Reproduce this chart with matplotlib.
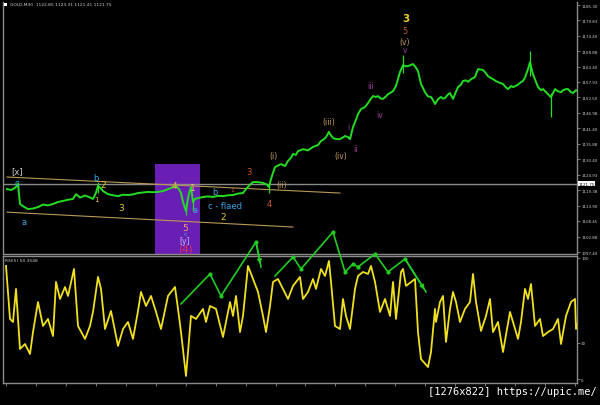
import matplotlib
matplotlib.use("Agg")
import matplotlib.pyplot as plt
from matplotlib.patches import Rectangle

# price series (bar position, close)
bar_x = [4, 8, 12, 15, 17, 21, 25, 30, 35, 40, 45, 50, 55, 60, 65, 70, 73, 77, 82, 86,
         90, 93, 95, 98, 100, 105, 110, 115, 120, 125, 130, 135, 140, 145, 150, 155, 160, 165, 170, 173,
         176, 178, 180, 182, 183, 185, 187, 188, 190, 192, 195, 200, 205, 210, 215, 220, 225, 230, 235, 240,
         243, 246, 250, 255, 260, 264, 266, 268, 270, 272, 275, 278, 282, 285, 288, 290, 293, 295, 300, 305,
         310, 315, 318, 321, 323, 326, 327, 330, 333, 337, 340, 342, 345, 347, 350, 353, 355, 358, 362, 365,
         368, 370, 373, 375, 378, 380, 383, 385, 388, 390, 393, 395, 397, 400, 403, 405, 408, 410, 413, 415,
         418, 420, 422, 425, 428, 430, 432, 435, 438, 440, 442, 445, 447, 450, 453, 455, 458, 460, 463, 465,
         468, 470, 472, 474, 475, 478, 480, 483, 485, 488, 490, 493, 495, 498, 500, 503, 505, 508, 510, 513,
         515, 518, 520, 522, 524, 525, 527, 529, 530, 533, 535, 538, 540, 543, 545, 548, 550, 552, 555, 558,
         560, 563, 565, 568, 570, 573, 575]
close = [1119.8, 1119.5, 1120.2, 1121.6, 1114.5, 1113.5, 1112.7, 1112.9, 1113.4, 1114.3, 1114.0, 1114.5, 1115.2, 1115.6, 1116.0, 1116.3, 1118.0, 1116.8, 1117.5, 1117.0,
         1116.3, 1118.5, 1121.0, 1120.0, 1119.1, 1118.0, 1117.6, 1117.3, 1117.8, 1117.7, 1117.9, 1118.4, 1118.6, 1118.8, 1118.7, 1118.8, 1119.1, 1119.8, 1120.5, 1120.9,
         1119.8, 1118.4, 1115.2, 1113.0, 1112.0, 1116.6, 1119.5, 1120.5, 1115.2, 1116.3, 1116.6, 1117.0, 1117.2, 1117.0, 1117.4, 1117.3, 1117.6, 1117.7, 1118.2, 1118.4,
         1119.8, 1121.0, 1122.3, 1122.3, 1122.0, 1121.4, 1120.5, 1123.4, 1125.6, 1127.6, 1128.2, 1128.7, 1128.0, 1129.8, 1131.0, 1132.3, 1132.0, 1133.3, 1134.0, 1133.6,
         1134.8, 1135.5, 1136.9, 1137.6, 1138.3, 1140.2, 1139.4, 1138.0, 1137.6, 1137.6, 1138.2, 1138.7, 1138.3, 1137.6, 1141.9, 1144.5, 1146.5, 1148.3, 1149.0, 1150.4,
         1152.0, 1152.9, 1152.6, 1152.9, 1152.0, 1151.9, 1152.8, 1153.6, 1154.2, 1154.7, 1156.5, 1159.0, 1161.5, 1163.9, 1163.5, 1163.6, 1164.0, 1164.3, 1163.0, 1161.8,
         1157.2, 1155.8, 1154.3, 1152.8, 1152.6, 1151.5, 1150.1, 1151.8, 1152.6, 1152.0, 1152.2, 1153.5, 1154.0, 1151.9, 1154.5, 1156.1, 1157.0, 1158.3, 1158.5, 1158.0,
         1158.9, 1159.3, 1159.7, 1161.5, 1162.5, 1162.3, 1162.2, 1161.0, 1160.0, 1159.3, 1159.0, 1158.2, 1157.9, 1157.5, 1157.2, 1156.0, 1155.4, 1156.5, 1156.1, 1156.6,
         1157.0, 1157.9, 1158.3, 1159.5, 1161.5, 1162.5, 1165.0, 1162.0, 1160.7, 1158.0, 1156.1, 1155.0, 1155.4, 1154.3, 1153.6, 1152.5, 1154.0, 1155.4, 1154.6, 1154.3,
         1155.0, 1155.4, 1155.4, 1154.3, 1154.0, 1155.0, 1154.6]

# candle wicks that stick out of the line
wick_x = [15, 95, 183, 190, 266, 400, 527, 548]
wick_lo = [1119.0, 1118.5, 1110.5, 1112.0, 1118.5, 1161.0, 1160.0, 1145.4]
wick_hi = [1122.5, 1122.5, 1115.0, 1116.0, 1122.0, 1167.5, 1169.0, 1154.0]

# RSI(5)
rsi_x = [3, 7, 10, 13, 17, 22, 27, 30, 35, 40, 45, 50, 53, 57, 62, 65, 71, 75, 82, 87,
         90, 95, 98, 102, 108, 115, 120, 125, 130, 135, 138, 143, 148, 153, 158, 165, 172, 175, 178, 183,
         188, 193, 200, 203, 207, 213, 220, 227, 230, 233, 237, 240, 245, 250, 255, 260, 263, 267, 270, 275,
         280, 285, 290, 297, 300, 305, 310, 313, 318, 322, 326, 328, 332, 337, 340, 343, 347, 352, 355, 360,
         365, 368, 372, 377, 382, 387, 390, 393, 398, 400, 403, 412, 415, 418, 425, 428, 432, 433, 437, 440,
         443, 447, 450, 453, 457, 462, 467, 470, 473, 478, 483, 487, 490, 495, 500, 507, 512, 515, 518, 522,
         525, 528, 532, 537, 540, 545, 550, 555, 558, 563, 568, 572, 573, 577]
rsi = [93.4, 49.6, 47.1, 74.4, 24.8, 28.9, 20.7, 38.8, 63.6, 43.8, 49.6, 35.5, 80.2, 66.1, 76.0, 68.6, 90.9, 43.8, 33.1, 43.8,
       55.4, 84.3, 74.4, 41.3, 56.2, 27.3, 41.3, 47.1, 33.1, 56.2, 71.9, 60.3, 68.6, 55.4, 41.3, 68.6, 76.0, 57.9, 38.8, 2.5,
       52.1, 49.6, 57.9, 47.1, 60.3, 57.9, 34.7, 63.6, 52.1, 68.6, 38.8, 52.1, 93.4, 82.6, 71.9, 52.1, 38.8, 60.3, 80.2, 82.6,
       74.4, 66.1, 76.9, 84.3, 66.1, 71.9, 82.6, 74.4, 90.9, 85.1, 97.5, 80.2, 43.8, 41.3, 66.1, 52.1, 41.3, 74.4, 85.1, 88.4,
       86.8, 93.4, 80.2, 55.4, 66.1, 52.1, 80.2, 49.6, 88.4, 90.9, 76.9, 82.6, 38.8, 16.5, 9.9, 22.3, 57.9, 47.1, 63.6, 68.6,
       30.6, 57.9, 71.9, 63.6, 47.1, 57.9, 63.6, 86.8, 63.6, 39.7, 52.1, 66.1, 38.8, 47.1, 22.3, 55.4, 41.3, 33.1, 47.1, 74.4,
       66.1, 78.5, 43.8, 49.6, 35.5, 38.8, 41.3, 49.6, 28.9, 52.1, 63.6, 66.1, 41.3, 52.1]

# hand drawn zigzag arrows over the RSI (RSI scale, can go above 100)
arrow1_x = [178, 207, 218, 253, 258]
arrow1_y = [62.0, 86.8, 68.6, 113.2, 92.6]
arrow2_x = [272, 290, 298, 330, 342, 350, 355, 372, 385, 402, 423]
arrow2_y = [85.1, 100.8, 90.9, 121.5, 88.4, 95.0, 92.6, 103.3, 88.4, 99.2, 71.9]

# trend channel and wave box
upper_x = [4, 337]
upper_p = [1124.1, 1118.4]
lower_x = [4, 290]
lower_p = [1111.6, 1106.3]
box_x = [152, 197]
box_top = 1128.7
last_price = 1121.75

price_ticks = [1185.30, 1179.83, 1174.40, 1168.88, 1163.40, 1157.93, 1152.50, 1146.98, 1141.40,
               1135.88, 1130.40, 1124.93, 1119.38, 1113.90, 1108.45, 1102.88, 1097.40]
rsi_ticks = [100, 30, 0]
time_ticks = [3, 33, 63, 93, 123, 153, 183, 213, 243, 273, 302, 332, 362, 392, 422, 452, 482, 512, 542, 572]

YEL = "#e8c830"
CYA = "#3aa8e8"
ORG = "#d0582a"
TAN = "#c8a060"
MAG = "#a03ca0"

# wave labels: x, price, text, colour, size
labels = [
    (14, 1126.2, "[x]", "#d0d0d0", 6),
    (14, 1122.0, "c", CYA, 6),
    (21, 1108.1, "a", CYA, 6),
    (93, 1124.1, "b", CYA, 6),
    (100, 1121.6, "2", YEL, 6.5),
    (93, 1116.3, "1", YEL, 5),
    (118, 1113.4, "3", YEL, 6.5),
    (171, 1121.2, "4", "#f0b040", 6.5),
    (190, 1120.5, "1", "#f0c070", 6.5),
    (192, 1112.4, "a", CYA, 6),
    (182, 1106.3, "5", "#f0a070", 6.5),
    (182, 1104.0, "c", CYA, 4.5),
    (182, 1101.5, "[y]", "#c0c0ff", 5.5),
    (182, 1098.5, "(4)", "#e03050", 7.5),
    (212, 1118.8, "b", CYA, 6),
    (222, 1113.8, "c - flaed", CYA, 6),
    (220, 1109.9, "2", YEL, 6.5),
    (229, 1119.5, "1", ORG, 4.5),
    (246, 1126.2, "3", ORG, 6),
    (266, 1114.8, "4", ORG, 6),
    (270, 1131.6, "(i)", TAN, 5.5),
    (279, 1121.6, "(ii)", TAN, 5.5),
    (326, 1144.0, "(iii)", TAN, 5.5),
    (338, 1131.6, "(iv)", TAN, 5.5),
    (345, 1142.2, "i", MAG, 5.5),
    (352, 1134.4, "ii", MAG, 5.5),
    (368, 1156.5, "iii", MAG, 5.5),
    (377, 1146.5, "iv", MAG, 5.5),
    (403, 1180.7, "3", YEL, 7.5),
    (402, 1176.1, "5", "#c05a20", 6),
    (402, 1172.5, "(v)", TAN, 5.5),
    (402, 1169.6, "v", MAG, 5.5),
]

GRID = "#8a8a8a"
fig = plt.figure(figsize=(6, 4.06), dpi=100, facecolor="black")
ax = fig.add_axes([3 / 600, 151 / 406, 574 / 600, 252 / 406], facecolor="black")
ax2 = fig.add_axes([3 / 600, 22 / 406, 574 / 600, 127 / 406], facecolor="black")

# ---- price panel
ax.add_patch(Rectangle((box_x[0], 1000), box_x[1] - box_x[0], box_top - 1000,
                       facecolor="#6a1fb4", edgecolor="none", zorder=1))
ax.axhline(last_price, color=GRID, lw=1.0, zorder=2)
ax.plot(upper_x, upper_p, color="#b89a58", lw=0.8, zorder=2)
ax.plot(lower_x, lower_p, color="#b89a58", lw=0.8, zorder=2)
ax.vlines(wick_x, wick_lo, wick_hi, color="#22dd22", lw=0.9, zorder=3)
ax.plot(bar_x, close, color="#22dd22", lw=1.4, zorder=3)

for x, p, t, c, s in labels:
    ax.text(x, p, t, color=c, fontsize=s, ha="center", va="center", zorder=4,
            fontweight="bold" if t == "3" and s > 7 else "normal")

ax.set_xlim(0, 574)
ax.set_ylim(1096.7, 1186.4)
ax.yaxis.tick_right()
ax.set_yticks(price_ticks)
ax.set_yticklabels([f"{v:.2f}" for v in price_ticks])
ax.tick_params(axis="y", colors=GRID, labelcolor="#d0d0d0", labelsize=2.9, length=2, width=0.6, pad=1)
ax.set_xticks([])
ax.spines["top"].set_visible(False)
for side in ["left", "right", "bottom"]:
    ax.spines[side].set_color(GRID)
    ax.spines[side].set_linewidth(1.0)
ax.text(1.002, (last_price - 1096.7) / (1186.4 - 1096.7), f"{last_price:.2f}", transform=ax.transAxes,
        fontsize=2.9, color="black", ha="left", va="center",
        bbox=dict(boxstyle="square,pad=0.15", facecolor="white", edgecolor="none"))

# ---- RSI panel
ax2.plot(rsi_x, rsi, color="#f0e020", lw=1.3, zorder=3)
ax2.plot(arrow1_x, arrow1_y, color="#22cc22", lw=1.2, clip_on=False, zorder=5)
ax2.plot(arrow2_x, arrow2_y, color="#22cc22", lw=1.2, clip_on=False, zorder=5)
for xs, ys in [(arrow1_x, arrow1_y), (arrow2_x, arrow2_y)]:
    ax2.annotate("", xy=(xs[-1], ys[-1]), xytext=(xs[-2], ys[-2]),
                 arrowprops=dict(arrowstyle="-|>", color="#22cc22", lw=1.2, mutation_scale=6),
                 annotation_clip=False, zorder=5)
    ax2.scatter(xs[1:-1], ys[1:-1], s=4, color="#22cc22", clip_on=False, zorder=5)
ax2.set_xlim(0, 574)
ax2.set_ylim(-3.3, 101.6)
ax2.yaxis.tick_right()
ax2.set_yticks(rsi_ticks)
ax2.set_yticklabels([str(v) for v in rsi_ticks])
ax2.tick_params(axis="y", colors=GRID, labelcolor="#d0d0d0", labelsize=2.9, length=2, width=0.6, pad=1)
ax2.set_xticks(time_ticks)
ax2.set_xticklabels([])
ax2.tick_params(axis="x", colors=GRID, length=2, width=0.6)
for side in ["left", "right", "bottom", "top"]:
    ax2.spines[side].set_color(GRID)
    ax2.spines[side].set_linewidth(1.0)
ax2.text(0.004, 0.985, "RSI(5) 50.3548", transform=ax2.transAxes, fontsize=3.2,
         color="#d0d0d0", ha="left", va="top")

# header and watermark
fig.text(10 / 600, 1 - 5 / 406, "GOLD,M30  1122.85 1123.31 1121.41 1121.75", fontsize=3.2,
         color="#d0d0d0", ha="left", va="center")
fig.patches.append(Rectangle((4 / 600, 1 - 7 / 406), 3 / 600, 3 / 406, transform=fig.transFigure,
                             facecolor="white", edgecolor="none"))
fig.text(597 / 600, 14 / 406, "[1276x822] https://upic.me/", fontsize=7.5, family="DejaVu Sans Mono",
         color="white", ha="right", va="center")

fig.savefig("out.png", dpi=100, facecolor="black")
